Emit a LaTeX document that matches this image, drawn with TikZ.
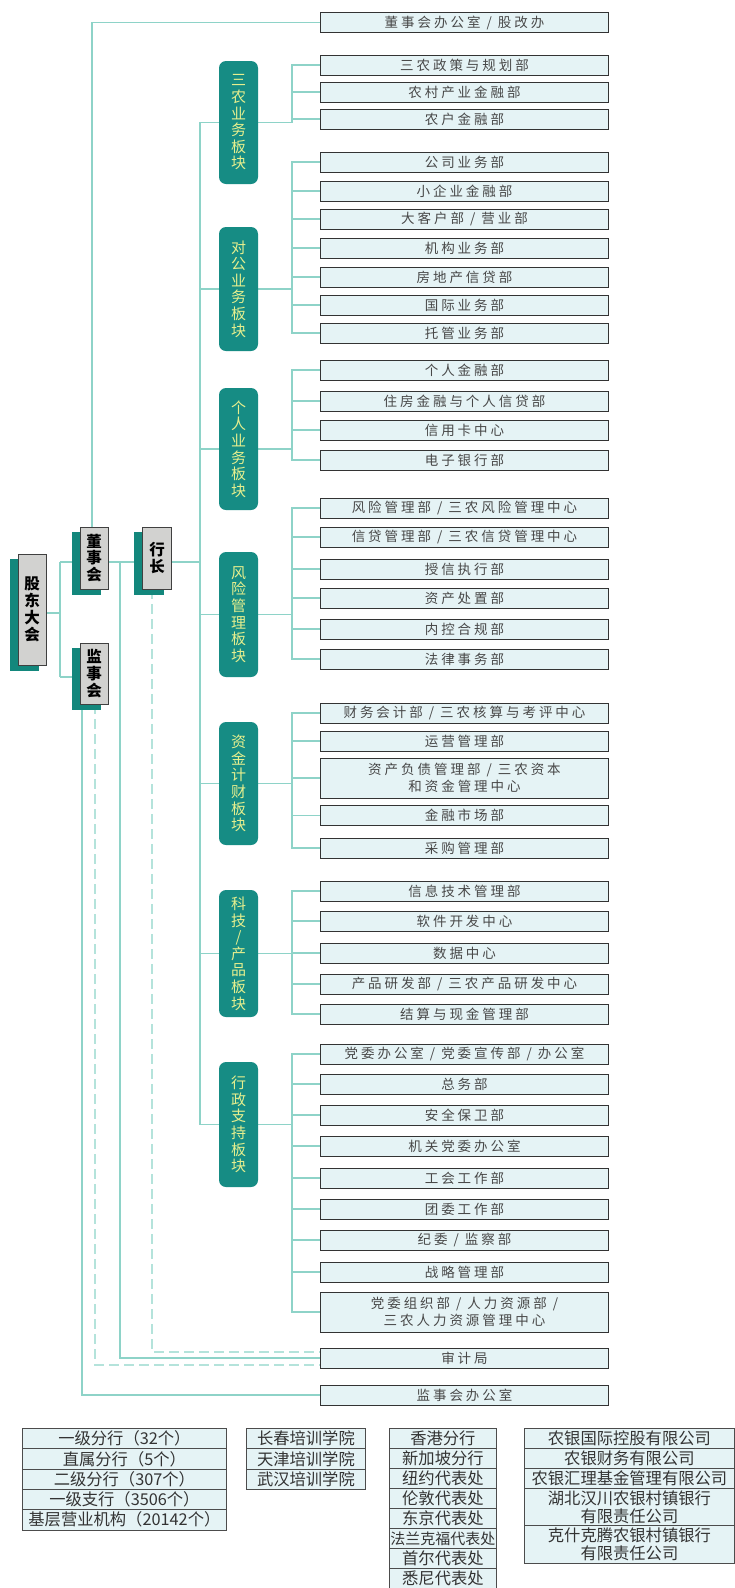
\documentclass[tikz,border=0pt]{standalone}
\usepackage{fontspec}
\newfontfamily\cjk{Noto Sans CJK SC}
\newfontfamily\cjkls{Noto Sans CJK SC}[LetterSpace=22]
\usetikzlibrary{shadows}
\pgfdeclarelayer{back}
\pgfdeclarelayer{bg}
\pgfsetlayers{back,bg,main}
\definecolor{lineteal}{HTML}{8ED3C8}
\definecolor{dashteal}{HTML}{B4E3DB}
\definecolor{boardteal}{HTML}{168C84}
\definecolor{boardtext}{HTML}{E6EF8E}
\definecolor{shadteal}{HTML}{13877C}
\definecolor{grayfill}{HTML}{D2D2D0}
\definecolor{deptfill}{HTML}{E5F3F5}
\definecolor{depttext}{HTML}{484848}
\tikzset{
  dept/.style={draw=black!80, line width=1pt, fill=deptfill, minimum width=288pt,
    minimum height=20pt, inner sep=0pt, text=depttext, align=center,
    font=\cjkls\fontsize{13.5}{17}\selectfont},
  deptii/.style={dept, minimum height=40pt},
  board/.style={rounded corners=7pt, fill=boardteal, draw=none, minimum width=39pt,
    inner sep=0pt, text=boardtext, align=center, font=\cjk\fontsize{15}{16.6}\selectfont},
  gbox/.style={draw=black!75, line width=0.8pt, fill=grayfill, minimum width=28pt,
    inner sep=0pt, align=center, font=\cjk\bfseries\fontsize{15.5}{16.8}\selectfont,
    copy shadow={shadow xshift=-8pt, shadow yshift=-5pt, fill=shadteal, draw=shadteal}},
  conn/.style={draw=lineteal, line width=1.4pt},
  dconn/.style={draw=dashteal, line width=1.4pt, dash pattern=on 10pt off 5pt},
  tcell/.style={draw=black!70, line width=0.8pt, fill=deptfill, minimum height=20.3pt,
    inner sep=0pt, align=center, text=black!80, font=\cjk\fontsize{16.3}{18}\selectfont}
}
\begin{document}
\begin{tikzpicture}[x=1pt,y=-1pt]
\useasboundingbox (0,0) rectangle (735,1588);
\begin{pgfonlayer}{back}
\fill[white] (0,0) rectangle (735,1588);
\end{pgfonlayer}

% left gray boxes
\node[gbox, minimum height=111pt] (gd) at (32,609.5) {股\\东\\大\\会};
\node[gbox, minimum height=62pt] (ds) at (94,558) {董\\事\\会};
\node[gbox, minimum height=61pt] (js) at (94,673.5) {监\\事\\会};
\node[gbox, minimum height=62pt, minimum width=29pt] (hz) at (157,558) {行\\长};

% boards
\node[board, minimum height=123pt] (B1) at (238.5,122.5) {三\\农\\业\\务\\板\\块};
\node[board, minimum height=124pt] (B2) at (238.5,289) {对\\公\\业\\务\\板\\块};
\node[board, minimum height=122pt] (B3) at (238.5,449) {个\\人\\业\\务\\板\\块};
\node[board, minimum height=125pt] (B4) at (238.5,614.5) {风\\险\\管\\理\\板\\块};
\node[board, minimum height=123pt] (B5) at (238.5,783.5) {资\\金\\计\\财\\板\\块};
\node[board, minimum height=127pt] (B6) at (238.5,953.5) {科\\技\\/\\产\\品\\板\\块};
\node[board, minimum height=125pt] (B7) at (238.5,1124.5) {行\\政\\支\\持\\板\\块};

% departments
\node[dept] (dbo) at (464.5,22.5) {董事会办公室 / 股改办};
\node[dept] (a1) at (464.5,65) {三农政策与规划部};
\node[dept] (a2) at (464.5,92) {农村产业金融部};
\node[dept] (a3) at (464.5,119) {农户金融部};
\node[dept] (b1) at (464.5,162) {公司业务部};
\node[dept] (b2) at (464.5,191) {小企业金融部};
\node[dept] (b3) at (464.5,219) {大客户部 / 营业部};
\node[dept] (b4) at (464.5,248) {机构业务部};
\node[dept] (b5) at (464.5,277) {房地产信贷部};
\node[dept] (b6) at (464.5,305) {国际业务部};
\node[dept] (b7) at (464.5,333) {托管业务部};
\node[dept] (c1) at (464.5,370) {个人金融部};
\node[dept] (c2) at (464.5,401) {住房金融与个人信贷部};
\node[dept] (c3) at (464.5,430) {信用卡中心};
\node[dept] (c4) at (464.5,460) {电子银行部};
\node[dept] (e1) at (464.5,508) {风险管理部 / 三农风险管理中心};
\node[dept] (e2) at (464.5,537) {信贷管理部 / 三农信贷管理中心};
\node[dept] (e3) at (464.5,569) {授信执行部};
\node[dept] (e4) at (464.5,598) {资产处置部};
\node[dept] (e5) at (464.5,629) {内控合规部};
\node[dept] (e6) at (464.5,659) {法律事务部};
\node[dept] (f1) at (464.5,713) {财务会计部 / 三农核算与考评中心};
\node[dept] (f2) at (464.5,741) {运营管理部};
\node[deptii] (f3) at (464.5,778) {资产负债管理部 / 三农资本\\和资金管理中心};
\node[dept] (f4) at (464.5,815.5) {金融市场部};
\node[dept] (f5) at (464.5,848) {采购管理部};
\node[dept] (g1) at (464.5,891) {信息技术管理部};
\node[dept] (g2) at (464.5,921) {软件开发中心};
\node[dept] (g3) at (464.5,953) {数据中心};
\node[dept] (g4) at (464.5,984) {产品研发部 / 三农产品研发中心};
\node[dept] (g5) at (464.5,1014) {结算与现金管理部};
\node[dept] (h1) at (464.5,1054) {党委办公室 / 党委宣传部 / 办公室};
\node[dept] (h2) at (464.5,1084) {总务部};
\node[dept] (h3) at (464.5,1115) {安全保卫部};
\node[dept] (h4) at (464.5,1146) {机关党委办公室};
\node[dept] (h5) at (464.5,1178) {工会工作部};
\node[dept] (h6) at (464.5,1209) {团委工作部};
\node[dept] (h7) at (464.5,1240) {纪委 / 监察部};
\node[dept] (h8) at (464.5,1272) {战略管理部};
\node[deptii] (h9) at (464.5,1312) {党委组织部 / 人力资源部 /\\三农人力资源管理中心};
\node[dept] (audit) at (464.5,1358) {审计局};
\node[dept] (jso) at (464.5,1395) {监事会办公室};

% bottom tables
\foreach \t [count=\i from 0] in {一级分行（32个）,直属分行（5个）,二级分行（307个）,一级支行（3506个）,基层营业机构（20142个）}
  \node[tcell, minimum width=204pt, anchor=north west] (tA\i) at (22,{1428+20.3*\i}) {\t};
\foreach \t [count=\i from 0] in {长春培训学院,天津培训学院,武汉培训学院}
  \node[tcell, minimum width=119pt, anchor=north west] (tB\i) at (246,{1428+20.3*\i}) {\t};
\foreach \t [count=\i from 0] in {香港分行,新加坡分行,纽约代表处,伦敦代表处,东京代表处,{\fontsize{15}{16}\selectfont 法兰克福代表处},首尔代表处,悉尼代表处}
  \node[tcell, minimum width=107pt, minimum height=20pt, anchor=north west] (tC\i) at (389,{1428+20*\i}) {\t};
\node[tcell, minimum width=210pt, minimum height=20pt, anchor=north west] (tD0) at (524,1428) {农银国际控股有限公司};
\node[tcell, minimum width=210pt, minimum height=20pt, anchor=north west] (tD1) at (524,1448) {农银财务有限公司};
\node[tcell, minimum width=210pt, minimum height=20pt, anchor=north west] (tD2) at (524,1468) {农银汇理基金管理有限公司};
\node[tcell, minimum width=210pt, minimum height=37pt, anchor=north west] (tD3) at (524,1488) {湖北汉川农银村镇银行\\有限责任公司};
\node[tcell, minimum width=210pt, minimum height=38pt, anchor=north west] (tD4) at (524,1525) {克什克腾农银村镇银行\\有限责任公司};

% connectors
\begin{pgfonlayer}{bg}
\coordinate (gA) at (60,562);
\coordinate (gB) at (60,677);
\coordinate (gM) at (60,613);
\draw[conn] (gA) -- (gB);
\draw[conn] (gd.east |- gM) -- (gM);
\draw[conn] (gA) -- (ds.west |- gA);
\draw[conn] (gB) -- (js.west |- gB);
\draw[conn] (ds.east |- gA) -- (hz.west |- gA);
\coordinate (tTop) at (92,22.5);
\draw[conn] (ds.north -| tTop) -- (tTop) -- (dbo.west);
\coordinate (aud) at (120,562);
\draw[conn] (aud) |- (audit.west);
\coordinate (xH) at (152,0);
\coordinate (xJ) at (95,0);
\coordinate (xK) at (82,0);
\draw[dconn] (hz.south -| xH) |- ([yshift=6pt]audit.west);
\draw[dconn] (js.south -| xJ) |- ([yshift=-7pt]audit.west);
\draw[conn] (js.south -| xK) |- (jso.west);
\coordinate (tj) at (200,562);
\draw[conn] (hz.east |- tj) -- (tj);
\foreach \b in {B1,B2,B3,B4,B5,B6,B7} \draw[conn] (tj) |- (\b.west);
\coordinate (xS) at (292,0);
\coordinate (S1) at (B1.east -| xS);
\coordinate (S2) at (B2.east -| xS);
\coordinate (S3) at (B3.east -| xS);
\coordinate (S4) at (B4.east -| xS);
\coordinate (S5) at (B5.east -| xS);
\coordinate (S6) at (B6.east -| xS);
\coordinate (S7) at (B7.east -| xS);
\draw[conn] (B1.east) -- (S1);
\draw[conn] (B2.east) -- (S2);
\draw[conn] (B3.east) -- (S3);
\draw[conn] (B4.east) -- (S4);
\draw[conn] (B5.east) -- (S5);
\draw[conn] (B6.east) -- (S6);
\draw[conn] (B7.east) -- (S7);
\foreach \n in {a1,a2,a3} \draw[conn] (S1) |- (\n.west);
\foreach \n in {b1,b2,b3,b4,b5,b6,b7} \draw[conn] (S2) |- (\n.west);
\foreach \n in {c1,c2,c3,c4} \draw[conn] (S3) |- (\n.west);
\foreach \n in {e1,e2,e3,e4,e5,e6} \draw[conn] (S4) |- (\n.west);
\foreach \n in {f1,f2,f3,f4,f5} \draw[conn] (S5) |- (\n.west);
\foreach \n in {g1,g2,g3,g4,g5} \draw[conn] (S6) |- (\n.west);
\foreach \n in {h1,h2,h3,h4,h5,h6,h7,h8,h9} \draw[conn] (S7) |- (\n.west);
\end{pgfonlayer}
\end{tikzpicture}
\end{document}
